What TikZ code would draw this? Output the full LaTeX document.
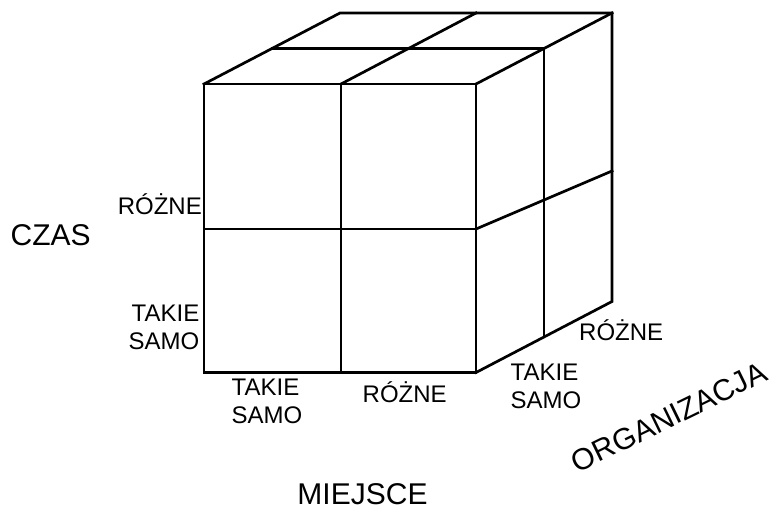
\documentclass[tikz,border=0pt]{standalone}
\usepackage{fontspec}
\setmainfont{Liberation Sans}
\begin{document}
\begin{tikzpicture}[x=1pt,y=-1pt,
  edge/.style={line width=2.7pt,line cap=rect,line join=miter},
  small/.style={font=\fontsize{24}{28}\selectfont,inner sep=0pt},
  big/.style={font=\fontsize{30}{36}\selectfont,inner sep=0pt}]
\useasboundingbox (0,0) rectangle (774,508);
% front face
\coordinate (F00) at (204,84);
\coordinate (F10) at (341,84);
\coordinate (F20) at (476,84);
\coordinate (F01) at (204,229);
\coordinate (F21) at (476,229);
\coordinate (F02) at (204,372.5);
\coordinate (F12) at (341,372.5);
\coordinate (F22) at (476,372.5);
% middle depth
\coordinate (M00) at (272,48.5);
\coordinate (M10) at (408.5,48.5);
\coordinate (M20) at (544,48.5);
\coordinate (M22) at (544,337);
% back
\coordinate (B00) at (340,13);
\coordinate (B10) at (476,13);
\coordinate (B20) at (612,13);
\coordinate (B21) at (612,171);
\coordinate (B22) at (612,301.5);

\draw[edge] (F00) rectangle (F22);
\draw[edge] (F10) -- (F12);
\draw[edge] (F01) -- (F21);
\draw[edge] (F00) -- (B00) -- (B20) -- (B22) -- (F22);
\draw[edge] (F10) -- (B10);
\draw[edge] (F20) -- (B20);
\draw[edge] (M00) -- (M20) -- (M22);
\draw[edge] (F21) -- (B21);

% labels
\node[big,anchor=base west] (czas) at (10.5,245.7) {CZAS};
\node[small,anchor=base east] (lroz) at (202,214) {RÓŻNE};
\node[small,anchor=north east,align=right] (ltak) at (199.5,304.5) {TAKIE\\SAMO};
\node[small,anchor=north west,align=left] (btak) at (231.5,378.5) {TAKIE\\SAMO};
\node[small,anchor=base west] (broz) at (362.5,402.7) {RÓŻNE};
\node[small,anchor=north west,align=left] (rtak) at (510.5,363.5) {TAKIE\\SAMO};
\node[small,anchor=base west] (rroz) at (579,340.7) {RÓŻNE};
\node[big,anchor=base] (miejsce) at (362.5,504) {MIEJSCE};
\node[big,anchor=center,rotate=26] (org) at (669,417) {ORGANIZACJA};
\end{tikzpicture}
\end{document}
